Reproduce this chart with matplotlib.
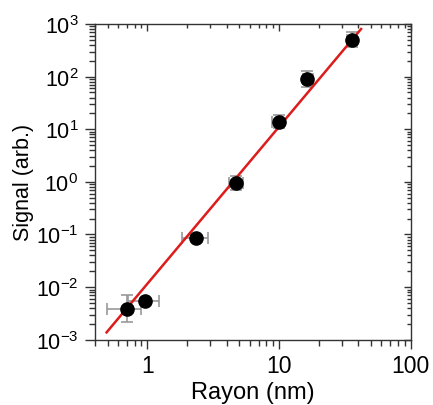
import matplotlib
matplotlib.use("Agg")
import matplotlib.pyplot as plt
from matplotlib.ticker import LogLocator, FuncFormatter, NullFormatter
import numpy as np

plt.rcParams['font.family'] = ['Liberation Sans', 'DejaVu Sans']
plt.rcParams['mathtext.default'] = 'regular'

# data
rayon = [0.695, 0.966, 2.35, 4.7, 10.0, 16.4, 35.9]
signal = [0.0039, 0.0054, 0.085, 0.96, 13.8, 90.0, 500.0]
x_lo = [0.49, 0.707, 1.84, 4.2, 8.9, 15.1, 32.8]
x_hi = [0.89, 1.235, 2.88, 5.28, 10.6, 18.0, 39.2]
y_lo = [0.0022, 0.0054, 0.085, 0.70, 10.5, 63.0, 360.0]
y_hi = [0.0072, 0.0054, 0.085, 1.30, 19.0, 130.0, 690.0]
fit_x = [0.49, 42.0]
fit_y = [0.00138, 803.0]

xlim = (0.4, 100)
ylim = (1e-3, 1e3)

fig = plt.figure(figsize=(4.33, 4.06), dpi=100)
pos = [0.2194, 0.1608, 0.729, 0.7776]
ax = fig.add_axes(pos)

r = np.array(rayon); s = np.array(signal)
xerr = [r - np.array(x_lo), np.array(x_hi) - r]
yerr = [s - np.array(y_lo), np.array(y_hi) - s]
ax.errorbar(rayon, signal, xerr=xerr, yerr=yerr, fmt='none', ecolor='#999999',
            elinewidth=1.2, capsize=4, capthick=1.2, zorder=2)
ax.plot(fit_x, fit_y, color='#dd1c1c', lw=1.8, zorder=3)
ax.plot(rayon, signal, 'o', color='black', markersize=9.5, zorder=4)

def setup(a):
    a.set_xscale('log')
    a.set_yscale('log')
    a.set_xlim(*xlim)
    a.set_ylim(*ylim)
    a.xaxis.set_major_locator(LogLocator(base=10, numticks=10))
    a.yaxis.set_major_locator(LogLocator(base=10, numticks=10))
    a.xaxis.set_minor_locator(LogLocator(base=10, subs=np.arange(2, 10), numticks=20))
    a.yaxis.set_minor_locator(LogLocator(base=10, subs=np.arange(2, 10), numticks=20))
    a.xaxis.set_minor_formatter(NullFormatter())
    a.yaxis.set_minor_formatter(NullFormatter())

setup(ax)
ax.xaxis.set_major_formatter(FuncFormatter(lambda v, p: f"{v:g}"))
ax.yaxis.set_major_formatter(FuncFormatter(lambda v, p: r"$10^{%d}$" % int(round(np.log10(v)))))

ax.tick_params(which='both', direction='out', top=False, right=False, width=1.0, color='#333333')
ax.tick_params(axis='x', which='major', length=6.5, pad=4, labelsize=16.5)
ax.tick_params(axis='y', which='major', length=7, pad=5, labelsize=15.5)
ax.tick_params(which='minor', length=4)
for sp in ax.spines.values():
    sp.set_linewidth(1.0)
    sp.set_color('#333333')

# inward ticks on top and right
ax2 = fig.add_axes(pos, sharex=ax, sharey=ax)
ax2.patch.set_visible(False)
for sp in ax2.spines.values():
    sp.set_visible(False)
ax2.tick_params(which='both', direction='in', bottom=False, left=False, top=True, right=True,
                labelbottom=False, labelleft=False, labeltop=False, labelright=False,
                width=1.0, color='#333333')
ax2.tick_params(which='major', length=5)
ax2.tick_params(which='minor', length=3)

ax.set_xlabel('Rayon (nm)', fontsize=17, labelpad=3)
ax.set_ylabel('Signal (arb.)', fontsize=15.5, labelpad=1)

fig.savefig('out.png', dpi=100)
